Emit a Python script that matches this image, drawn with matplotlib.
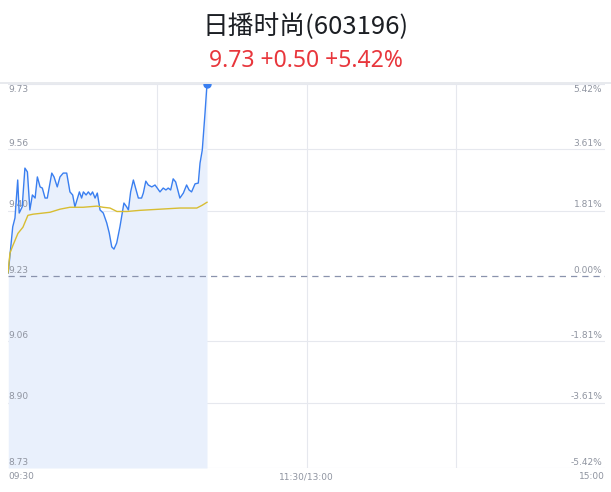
import numpy as np
import matplotlib.pyplot as plt
from matplotlib.lines import Line2D

plt.rcParams['font.family'] = ['Noto Sans CJK SC', 'DejaVu Sans']

# 数据
prev_close = 9.23
price_min = [0.1, 1.9, 2.8, 3.9, 4.5, 5.7, 6.8, 7.8, 8.8, 9.8, 10.9, 11.8, 12.9, 13.8,
             14.9, 15.8, 17.6, 18.5, 19.8, 20.9, 22.2, 23.6, 24.9, 26.0, 26.9, 28.7,
             29.6, 30.3, 31.4, 32.3, 33.2, 34.0, 35.0, 35.9, 37.0, 38.3, 39.7, 40.7,
             41.7, 42.6, 43.7, 45.0, 46.6, 47.7, 48.4, 49.3, 50.4, 51.5, 52.4, 53.7,
             54.4, 55.4, 56.4, 57.8, 59.1, 60.0, 61.1, 62.4, 63.5, 64.4, 65.4, 66.4,
             67.4, 69.1, 70.5, 71.8, 72.8, 73.8, 75.2, 76.5, 77.2, 78.1, 79.2, 80.0]
price = [9.238, 9.358, 9.381, 9.480, 9.394, 9.410, 9.511, 9.501, 9.402, 9.441, 9.433,
         9.488, 9.462, 9.459, 9.433, 9.433, 9.498, 9.488, 9.462, 9.488, 9.498, 9.498,
         9.449, 9.441, 9.410, 9.449, 9.433, 9.449, 9.441, 9.449, 9.441, 9.449, 9.433,
         9.446, 9.402, 9.394, 9.368, 9.342, 9.306, 9.300, 9.316, 9.358, 9.420, 9.410,
         9.402, 9.449, 9.480, 9.454, 9.433, 9.433, 9.446, 9.477, 9.467, 9.462, 9.467,
         9.459, 9.449, 9.459, 9.454, 9.459, 9.454, 9.483, 9.475, 9.433, 9.446, 9.467,
         9.454, 9.449, 9.470, 9.472, 9.524, 9.558, 9.654, 9.73]
avg_min = [0.0, 0.8, 2.0, 4.0, 6.0, 8.0, 10.1, 12.9, 16.9, 20.9, 24.9, 30.2, 35.8,
           38.2, 41.0, 43.8, 47.8, 53.1, 61.1, 69.1, 75.9, 78.0, 80.0]
avg_price = [9.238, 9.29, 9.31, 9.341, 9.357, 9.388, 9.391, 9.393, 9.396, 9.404, 9.409,
             9.409, 9.412, 9.409, 9.407, 9.398, 9.398, 9.401, 9.404, 9.407, 9.407,
             9.414, 9.422]

y_ticks = [9.73, 9.56, 9.40, 9.23, 9.06, 8.90, 8.73]
pct_ticks = ['5.42%', '3.61%', '1.81%', '0.00%', '-1.81%', '-3.61%', '-5.42%']
x_labels = ['09:30', '11:30/13:00', '15:00']

fig = plt.figure(figsize=(6.11, 4.92), dpi=100)
ax = fig.add_axes([8 / 611, 1 - 468 / 492, 597 / 611, 384 / 492])
ymin, ymax = 8.73, 9.73
ax.set_xlim(0, 240)
ax.set_ylim(ymin, ymax)

grid_c = '#e6e8ee'
for v in y_ticks:
    if v == prev_close:
        continue
    ax.axhline(v, color=grid_c, lw=0.8, zorder=1)
for m in [60, 120, 180]:
    ax.axvline(m, color=grid_c, lw=0.8, zorder=1)
ax.axhline(prev_close, color='#8a93ad', lw=0.9, ls=(0, (5, 4)), zorder=4)

ax.fill_between(price_min, price, ymin, color='#e9f0fc', lw=0, zorder=2)
ax.plot(price_min, price, color='#3a7ff0', lw=1.0, zorder=5)
ax.plot(avg_min, avg_price, color='#d8bd32', lw=1.0, zorder=5)
ax.plot(price_min[-1], price[-1], 'o', color='#3a7ff0', ms=5, zorder=6)

for s in ax.spines.values():
    s.set_visible(False)
ax.set_xticks([])
ax.set_yticks([])

lab_c = '#8f94a0'
for i, (v, p) in enumerate(zip(y_ticks, pct_ticks)):
    va = 'top' if i == 0 else 'bottom'
    off = -1 if i == 0 else 1
    ax.annotate(f'{v:.2f}', (0, v), xytext=(0, off), textcoords='offset points',
                ha='left', va=va, fontsize=6.5, color=lab_c, family='DejaVu Sans')
    ax.annotate(p, (240, v), xytext=(-2, off), textcoords='offset points',
                ha='right', va=va, fontsize=6.5, color=lab_c, family='DejaVu Sans')

for m, t, ha in zip([0, 120, 240], x_labels, ['left', 'center', 'right']):
    ax.annotate(t, (m, ymin), xytext=(0, -3), textcoords='offset points',
                ha=ha, va='top', fontsize=6.5, color=lab_c, family='DejaVu Sans')

fig.add_artist(Line2D([0, 1], [1 - 83 / 492] * 2, color='#e4e6eb', lw=1.2))

fig.text(0.5, 1 - 27 / 492, '日播时尚(603196)', ha='center', va='center',
         fontsize=18.5, color='#1c1f24')
fig.text(0.5, 1 - 61 / 492, '9.73 +0.50 +5.42%', ha='center', va='center',
         fontsize=16.5, color='#e8363c', family=['Noto Sans', 'DejaVu Sans'])

fig.savefig('out.png', dpi=100)
